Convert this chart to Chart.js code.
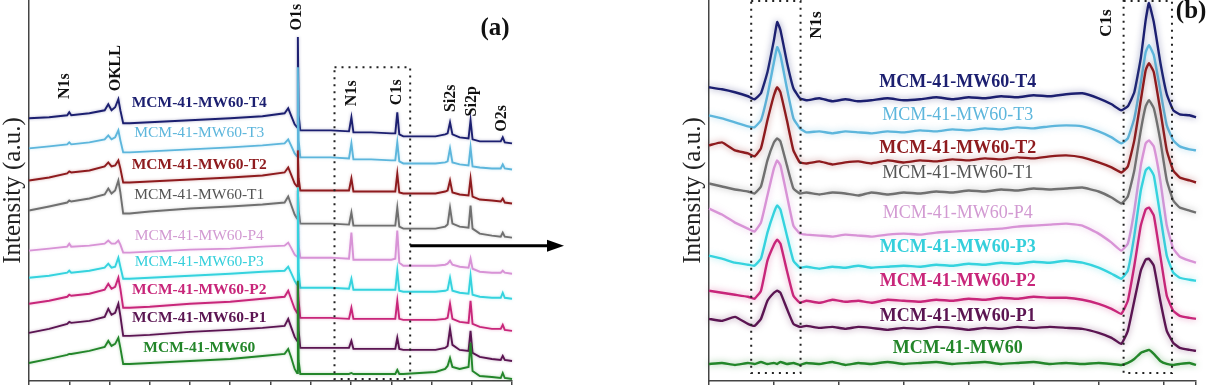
<!DOCTYPE html>
<html>
<head>
<meta charset="utf-8">
<script src="https://cdn.jsdelivr.net/npm/chart.js@4.4.1/dist/chart.umd.min.js"></script>
<style>
  html, body { margin: 0; padding: 0; background: #fff; }
  #wrap { position: relative; width: 1210px; height: 385px; overflow: hidden; }
  #survey { position: absolute; left: 0; top: 0; }
  #detail { position: absolute; left: 600px; top: 0; }
</style>
</head>
<body>
<div id="wrap">
  <canvas id="survey" width="600" height="385"></canvas>
  <canvas id="detail" width="610" height="385"></canvas>
</div>
<script>
// samples, top of the stack first
const samples = ['MCM-41-MW60-T4', 'MCM-41-MW60-T3', 'MCM-41-MW60-T2', 'MCM-41-MW60-T1',
  'MCM-41-MW60-P4', 'MCM-41-MW60-P3', 'MCM-41-MW60-P2', 'MCM-41-MW60-P1', 'MCM-41-MW60'];
const lineColors = ['#1c1f70', '#5db6dc', '#8e1b1e', '#707070', '#d893d6', '#35d3de', '#c8267a', '#5b1552', '#23862a'];
const textColors = ['#1c1f70', '#5db6dc', '#8e1b1e', '#555555', '#d29ad2', '#35cfdb', '#c8267a', '#5b1552', '#23862a'];

// (a) survey spectra, binding energy in eV (stacked, a.u.)
const energySurvey = [1200, 1150, 1105, 1100, 1095, 1050, 1012, 1003, 995, 986, 978, 973, 966, 950, 900, 800, 700, 620,
  565, 556, 549, 540, 534, 532, 530, 526, 500, 450, 405, 399, 394, 350, 300, 290, 285, 280, 270, 230, 190, 166, 160,
  154, 148, 130, 108, 103, 98, 80, 50, 28, 23, 18, 0];
const surveyT4 = [262, 263, 265, 268, 265, 267, 270, 276, 270, 273, 281, 270, 257, 257, 258, 260, 262, 264, 267, 272,
  265, 256, 253, 343, 265, 250, 250, 250, 249, 263, 248, 248, 247, 247, 268, 246, 244, 244, 244, 246, 247, 258, 246,
  243, 242, 260, 241, 239, 239, 239, 243, 238, 237];
const surveyT3 = [232, 234, 236, 238, 236, 238, 241, 245, 241, 243, 250, 240, 228, 228, 229, 231, 233, 235, 237, 241,
  235, 227, 224, 313, 240, 223, 223, 223, 222, 237, 221, 221, 220, 220, 238, 219, 217, 217, 217, 218, 219, 232, 218,
  216, 215, 233, 214, 213, 212, 212, 216, 212, 211];
const surveyT2 = [200, 203, 207, 209, 208, 210, 214, 218, 214, 215, 220, 212, 198, 198, 199, 201, 203, 205, 208, 213,
  206, 197, 194, 230, 202, 190, 190, 190, 190, 202, 189, 189, 189, 189, 207, 188, 187, 187, 187, 189, 190, 200, 188,
  186, 185, 202, 184, 181, 180, 179, 182, 178, 177];
const surveyT1 = [170, 174, 178, 180, 179, 182, 186, 192, 187, 190, 200, 188, 167, 167, 169, 172, 174, 176, 178, 184,
  176, 166, 162, 190, 170, 157, 157, 157, 156, 168, 155, 155, 155, 155, 173, 154, 152, 152, 152, 154, 156, 173, 157,
  154, 153, 175, 152, 147, 145, 144, 148, 144, 143];
const surveyP4 = [130, 132, 134, 137, 134, 135, 137, 140, 137, 137, 140, 136, 128, 128, 129, 131, 132, 134, 135, 138,
  133, 126, 124, 190, 135, 123, 123, 123, 122, 148, 121, 121, 121, 122, 150, 118, 115, 115, 115, 116, 117, 120, 116,
  114, 113, 122, 112, 109, 108, 108, 110, 108, 107];
const surveyP3 = [103, 105, 108, 110, 108, 110, 113, 117, 113, 114, 123, 114, 102, 102, 103, 105, 107, 109, 110, 114,
  108, 100, 96, 193, 110, 93, 93, 93, 92, 102, 91, 91, 91, 91, 110, 90, 89, 89, 89, 90, 91, 103, 90,
  88, 87, 105, 86, 84, 83, 83, 88, 83, 82];
const surveyP2 = [77, 80, 84, 86, 85, 87, 91, 97, 92, 94, 103, 92, 73, 73, 74, 77, 79, 82, 84, 90,
  82, 72, 68, 98, 80, 63, 63, 63, 62, 73, 62, 62, 62, 62, 80, 62, 61, 61, 61, 62, 63, 77, 62,
  59, 58, 80, 57, 54, 52, 52, 56, 51, 50];
const surveyP1 = [48, 52, 57, 59, 58, 60, 64, 72, 66, 68, 77, 65, 45, 45, 46, 49, 51, 53, 55, 62,
  54, 44, 40, 95, 50, 33, 33, 33, 33, 40, 32, 32, 32, 32, 43, 32, 31, 31, 31, 33, 35, 52, 36,
  31, 30, 50, 28, 24, 22, 21, 25, 21, 20];
const surveyMW60 = [18, 22, 26, 27, 27, 30, 34, 40, 35, 37, 43, 33, 17, 17, 18, 20, 22, 25, 27, 32,
  24, 12, 8, 100, 20, 7, 7, 7, 7, 8, 7, 7, 7, 7, 11, 7, 7, 8, 9, 12, 15, 23, 14,
  12, 14, 38, 10, 5, 4, 3, 8, 3, 2];
const surveySeries = [surveyT4, surveyT3, surveyT2, surveyT1, surveyP4, surveyP3, surveyP2, surveyP1, surveyMW60];

// (b) N1s and C1s region, binding energy in eV
const energyDetail = [420, 416, 412, 408, 406, 404, 402, 400, 399, 398, 396, 394, 392, 390, 386, 382, 378, 374, 370,
  365, 360, 355, 350, 345, 340, 335, 330, 325, 320, 315, 310, 305, 300, 296, 293, 291, 289, 287, 285.5, 284.5, 283,
  281, 279, 277, 275, 272, 270];
const detailT4 = [293, 291, 288, 284, 281, 287, 308, 340, 358, 350, 318, 292, 282, 280, 282, 279, 281, 279, 280, 282,
  280, 281, 283, 281, 283, 282, 284, 283, 285, 284, 286, 287, 282, 276, 270, 274, 288, 322, 360, 377,
  358, 318, 286, 270, 266, 265, 263];
const detailT3 = [265, 262, 258, 254, 253, 260, 285, 318, 333, 325, 292, 262, 252, 248, 249, 247, 249, 248, 247, 249,
  248, 250, 249, 251, 250, 252, 251, 253, 252, 254, 255, 254, 249, 243, 237, 242, 262, 298, 328, 335,
  325, 290, 255, 240, 234, 231, 230];
const detailT2 = [235, 238, 230, 227, 224, 232, 260, 285, 293, 288, 260, 230, 218, 217, 219, 216, 218, 219, 217, 220,
  218, 220, 219, 221, 220, 222, 221, 223, 222, 224, 225, 223, 218, 213, 208, 214, 240, 280, 310, 317,
  308, 270, 230, 210, 203, 200, 198];
const detailT1 = [197, 194, 191, 189, 187, 194, 220, 238, 242, 239, 215, 192, 187, 188, 186, 188, 187, 185, 188, 186,
  188, 187, 189, 188, 190, 189, 191, 190, 192, 191, 192, 193, 189, 183, 177, 184, 210, 250, 274, 280,
  272, 240, 200, 180, 173, 170, 168];
const detailP4 = [172, 166, 158, 152, 149, 158, 185, 212, 220, 215, 185, 155, 147, 146, 145, 144, 146, 145, 144, 146,
  147, 146, 148, 149, 150, 151, 152, 154, 155, 156, 157, 155, 147, 138, 130, 137, 170, 215, 237, 240,
  234, 200, 155, 132, 124, 120, 118];
const detailP3 = [125, 122, 118, 116, 115, 122, 148, 168, 175, 171, 145, 120, 113, 114, 112, 114, 113, 115, 113, 114,
  115, 114, 116, 115, 117, 116, 118, 117, 119, 118, 120, 118, 113, 107, 102, 110, 145, 190, 210, 213,
  205, 165, 125, 108, 103, 101, 100];
const detailP2 = [90, 88, 86, 84, 82, 90, 120, 136, 141, 137, 110, 85, 78, 80, 78, 81, 79, 80, 78, 81,
  80, 79, 81, 80, 82, 81, 83, 82, 84, 83, 83, 81, 77, 72, 67, 80, 115, 155, 171, 173,
  165, 125, 85, 70, 65, 63, 62];
const detailP1 = [62, 60, 64, 57, 55, 62, 80, 88, 90, 88, 72, 57, 54, 55, 53, 54, 52, 54, 53, 51,
  53, 52, 54, 53, 51, 53, 52, 54, 53, 54, 53, 52, 48, 43, 37, 50, 80, 110, 121, 122,
  115, 80, 50, 38, 33, 31, 30];
const detailMW60 = [17, 18, 16, 18, 17, 19, 17, 18, 17, 19, 17, 18, 16, 18, 17, 19, 16, 18, 17, 19,
  17, 18, 19, 17, 18, 19, 17, 18, 19, 17, 18, 17, 18, 17, 16, 18, 22, 28, 30, 31,
  27, 20, 17, 16, 17, 18, 16];
const detailSeries = [detailT4, detailT3, detailT2, detailT1, detailP4, detailP3, detailP2, detailP1, detailMW60];

const boldLabel = [true, false, true, false, false, false, true, true, true];
const SERIF = '"Liberation Serif", "Times New Roman", serif';

function rgba(hex, a) {
  const n = parseInt(hex.slice(1), 16);
  return 'rgba(' + (n >> 16) + ',' + ((n >> 8) & 255) + ',' + (n & 255) + ',' + a + ')';
}

function makeDatasets(energy, series, width, tension) {
  return series.map((vals, k) => ({
    label: samples[k],
    data: energy.map((e, i) => ({ x: e, y: vals[i] })),
    borderColor: lineColors[k],
    borderWidth: width,
    pointRadius: 0,
    tension: tension,
    order: series.length - 1 - k, // lower spectra are drawn on top
    clip: false
  }));
}

// soft halo around each spectrum
function glow(blur, alpha) {
  return {
    id: 'glow',
    beforeDatasetDraw(chart, args) {
      const ctx = chart.ctx;
      ctx.save();
      ctx.shadowColor = rgba(chart.data.datasets[args.index].borderColor, alpha);
      ctx.shadowBlur = blur;
    },
    afterDatasetDraw(chart) {
      chart.ctx.restore();
    }
  };
}

function vtext(ctx, str, px, py) {
  ctx.save();
  ctx.translate(px, py);
  ctx.rotate(-Math.PI / 2);
  ctx.fillText(str, 0, 0);
  ctx.restore();
}

function dottedBox(ctx, x, y, e1, e2, v1, v2) {
  ctx.save();
  ctx.setLineDash([2, 5]);
  ctx.lineWidth = 2;
  ctx.strokeStyle = '#222';
  const l = x.getPixelForValue(e1), r = x.getPixelForValue(e2);
  const t = y.getPixelForValue(v1), b = y.getPixelForValue(v2);
  ctx.strokeRect(l, t, r - l, b - t);
  ctx.restore();
}

function baseOptions(padLeft, padRight, xmin, xmax, step) {
  return {
    responsive: false,
    animation: false,
    devicePixelRatio: 1,
    layout: { padding: { left: padLeft, right: padRight, top: 0, bottom: 0 } },
    plugins: { legend: { display: false }, tooltip: { enabled: false } },
    scales: {
      x: {
        type: 'linear', reverse: true, min: xmin, max: xmax,
        ticks: { display: false, stepSize: step },
        grid: { drawOnChartArea: false, drawTicks: true, tickLength: 4, color: '#444', lineWidth: 1.5 },
        border: { display: true, color: '#444', width: 1.5 }
      },
      y: {
        min: 0, max: 380,
        ticks: { display: false },
        grid: { drawOnChartArea: false, drawTicks: false },
        border: { display: true, color: '#444', width: 1.5 },
        title: {
          display: true, text: 'Intensity (a.u.)', color: '#222',
          font: { family: SERIF, size: 25, lineHeight: 1 }, padding: { top: 1, bottom: 3 }
        }
      }
    }
  };
}

// panel (a) annotations
const surveyMarks = {
  id: 'surveyMarks',
  afterDatasetsDraw(chart) {
    const { ctx, scales: { x, y } } = chart;
    dottedBox(ctx, x, y, 441, 253, 313, 2);

    // arrow towards panel (b)
    const ay = y.getPixelForValue(135);
    const ax0 = x.getPixelForValue(253), ax1 = chart.chartArea.right + 50;
    ctx.save();
    ctx.strokeStyle = '#000'; ctx.fillStyle = '#000'; ctx.lineWidth = 3;
    ctx.beginPath(); ctx.moveTo(ax0, ay); ctx.lineTo(ax1 - 12, ay); ctx.stroke();
    ctx.beginPath(); ctx.moveTo(ax1 + 2, ay); ctx.lineTo(ax1 - 15, ay - 6); ctx.lineTo(ax1 - 15, ay + 6); ctx.closePath(); ctx.fill();
    ctx.restore();

    ctx.save();
    ctx.fillStyle = '#111';
    ctx.textAlign = 'center';
    ctx.textBaseline = 'middle';
    ctx.font = 'bold 16px ' + SERIF;
    [['N1s', 1110, 294], ['OKLL', 983, 312], ['O1s', 535, 363], ['N1s', 398, 287], ['C1s', 286, 288],
     ['Si2s', 152, 282], ['Si2p', 100, 279], ['O2s', 25, 262]].forEach(([s, e, v]) =>
      vtext(ctx, s, x.getPixelForValue(e), y.getPixelForValue(v)));
    ctx.font = 'bold 25px ' + SERIF;
    ctx.fillText('(a)', x.getPixelForValue(42), y.getPixelForValue(352));

    const labelY = [277, 247, 215, 186, 145, 119, 91, 63, 33];
    samples.forEach((s, k) => {
      ctx.font = (boldLabel[k] ? 'bold ' : '') + '15.5px ' + SERIF;
      ctx.fillStyle = textColors[k];
      ctx.fillText(s, x.getPixelForValue(777), y.getPixelForValue(labelY[k]));
    });
    ctx.restore();
  }
};

// panel (b) annotations
const detailMarks = {
  id: 'detailMarks',
  afterDatasetsDraw(chart) {
    const { ctx, scales: { x, y } } = chart;
    dottedBox(ctx, x, y, 407, 391.8, 379, 8);
    dottedBox(ctx, x, y, 292.3, 277.4, 379, 8);

    ctx.save();
    ctx.fillStyle = '#111';
    ctx.textAlign = 'center';
    ctx.textBaseline = 'middle';
    ctx.font = 'bold 17px ' + SERIF;
    vtext(ctx, 'N1s', x.getPixelForValue(386.8), y.getPixelForValue(355));
    vtext(ctx, 'C1s', x.getPixelForValue(297.6), y.getPixelForValue(357));
    ctx.font = 'bold 25px ' + SERIF;
    ctx.fillText('(b)', x.getPixelForValue(271.5), y.getPixelForValue(368));

    const labelY = [298, 265, 232, 207, 167, 133, 99, 64, 33];
    const boldB = [true, false, true, false, false, true, true, true, true];
    samples.forEach((s, k) => {
      ctx.font = (boldB[k] ? 'bold ' : '') + '18px ' + SERIF;
      ctx.fillStyle = textColors[k];
      ctx.fillText(s, x.getPixelForValue(343.4), y.getPixelForValue(labelY[k]));
    });
    ctx.restore();
  }
};

new Chart(document.getElementById('survey'), {
  type: 'line',
  data: { datasets: makeDatasets(energySurvey, surveySeries, 1.9, 0) },
  options: baseOptions(0, 88, 0, 1200, 100),
  plugins: [glow(3, 0.35), surveyMarks]
});

new Chart(document.getElementById('detail'), {
  type: 'line',
  data: { datasets: makeDatasets(energyDetail, detailSeries, 2.4, 0.12) },
  options: baseOptions(80, 14, 270, 420, 20),
  plugins: [glow(6, 0.5), detailMarks]
});
</script>
</body>
</html>
